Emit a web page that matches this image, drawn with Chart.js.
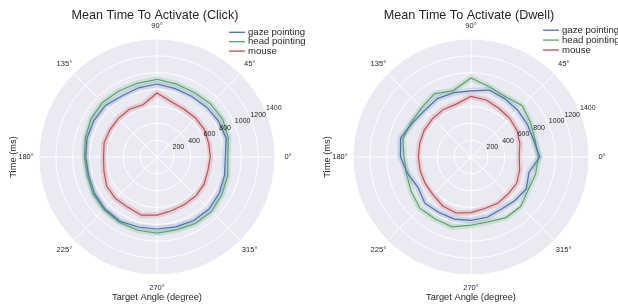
<!DOCTYPE html>
<html>
<head>
<meta charset="utf-8">
<script src="https://cdn.jsdelivr.net/npm/chart.js@4/dist/chart.umd.min.js"></script>
<style>
html, body { margin: 0; padding: 0; background: #fff; }
#wrap { position: relative; width: 618px; height: 306px; overflow: hidden; }
canvas { position: absolute; top: 0; }
#click { left: 0; }
#dwell { left: 309px; }
</style>
</head>
<body>
<div id="wrap">
<canvas id="click" width="309" height="306"></canvas>
<canvas id="dwell" width="309" height="306"></canvas>
</div>
<script>
// target angles (degrees, counter-clockwise from the right)
var angles = [0, 15, 30, 45, 60, 75, 90, 105, 120, 135, 150, 165,
              180, 195, 210, 225, 240, 255, 270, 285, 300, 315, 330, 345];
var angleTicks = ['0°', '45°', '90°', '135°', '180°', '225°', '270°', '315°'];
var seriesNames = ['gaze pointing', 'head pointing', 'mouse'];
var seriesColors = ['#4C72B0', '#55A868', '#C44E52'];
var bandColors = ['rgba(76,114,176,0.18)', 'rgba(85,168,104,0.18)', 'rgba(196,78,82,0.18)'];

// mean time to activate (ms), one value per target angle
var clickGaze  = [810, 850, 845, 835, 828, 840, 866, 850, 835, 865, 865, 860, 845, 840, 858, 873, 880, 860, 854, 858, 871, 874, 854, 830];
var clickHead  = [840, 875, 900, 895, 885, 895, 922, 905, 905, 915, 905, 880, 860, 856, 875, 888, 893, 900, 902, 895, 912, 915, 891, 868];
var clickMouse = [632, 635, 649, 650, 650, 676, 759, 642, 655, 648, 645, 650, 634, 652, 690, 696, 690, 715, 690, 660, 650, 652, 645, 625];
var dwellGaze  = [815, 770, 772, 785, 800, 822, 785, 790, 800, 780, 805, 865, 838, 775, 725, 775, 760, 762, 752, 740, 716, 733, 757, 712];
var dwellHead  = [800, 788, 816, 860, 826, 860, 937, 816, 865, 828, 820, 836, 795, 793, 818, 859, 850, 858, 809, 797, 830, 832, 783, 793];
var dwellMouse = [572, 600, 630, 650, 665, 700, 720, 653, 652, 645, 640, 630, 624, 624, 628, 636, 670, 688, 660, 632, 635, 621, 625, 598];

var FONT = '"Liberation Sans", Arial, sans-serif';
var n = angles.length;

// radar goes clockwise from the right, so walk the angles backwards
function clockwise(arr) {
  return arr.map(function (v, i) { return arr[(n - i) % n]; });
}

var polarDecor = {
  id: 'polarDecor',
  beforeDraw: function (chart) {
    var s = chart.scales.r, ctx = chart.ctx;
    ctx.save();
    ctx.fillStyle = '#EAEAF2';
    ctx.beginPath();
    ctx.arc(s.xCenter, s.yCenter, s.drawingArea, 0, Math.PI * 2);
    ctx.fill();
    ctx.restore();
  },
  afterDraw: function (chart, args, opts) {
    var s = chart.scales.r, ctx = chart.ctx;
    var cx = s.xCenter, cy = s.yCenter;
    ctx.save();
    ctx.fillStyle = '#262626';

    // angle labels
    ctx.font = '7.5px ' + FONT;
    ctx.textAlign = 'center';
    ctx.textBaseline = 'middle';
    chart.data.labels.forEach(function (lab, i) {
      if (angleTicks.indexOf(lab) < 0) return;
      var p = s.getPointPosition(i, s.drawingArea + 13);
      ctx.fillText(lab, p.x, p.y);
    });

    // radial labels at 22.5 degrees
    ctx.font = '7px ' + FONT;
    ctx.textAlign = 'left';
    ctx.textBaseline = 'bottom';
    var a = 22.5 * Math.PI / 180;
    s.ticks.forEach(function (t) {
      if (t.value <= 0) return;
      var d = s.getDistanceFromCenterForValue(t.value);
      ctx.fillText(String(t.value), cx + d * Math.cos(a), cy - d * Math.sin(a));
    });

    // title and axis labels
    ctx.textAlign = 'center';
    ctx.textBaseline = 'alphabetic';
    ctx.font = '12.6px ' + FONT;
    ctx.fillText(opts.title, cx - 2, 18.5);
    ctx.font = '9.3px ' + FONT;
    ctx.fillText('Target Angle (degree)', cx, 300);
    ctx.save();
    ctx.translate(cx - 144, cy);
    ctx.rotate(-Math.PI / 2);
    ctx.textBaseline = 'middle';
    ctx.fillText('Time (ms)', 0, 0);
    ctx.restore();

    // legend
    ctx.font = '9.6px ' + FONT;
    ctx.textAlign = 'left';
    ctx.textBaseline = 'middle';
    var row = 0;
    chart.data.datasets.forEach(function (ds) {
      if (!ds.label) return;
      var y = opts.legendTop + row * opts.legendGap;
      ctx.strokeStyle = ds.borderColor;
      ctx.lineWidth = 1.3;
      ctx.beginPath();
      ctx.moveTo(cx + 72, y);
      ctx.lineTo(cx + 88, y);
      ctx.stroke();
      ctx.fillText(ds.label, cx + 91, y);
      row++;
    });
    ctx.restore();
  }
};

function makeChart(id, title, series, padLeft, legendTop, legendGap) {
  var datasets = [];
  series.forEach(function (vals, k) {
    datasets.push({
      label: seriesNames[k],
      data: clockwise(vals),
      borderColor: seriesColors[k],
      borderWidth: 1.2,
      fill: false,
      order: 0
    });
    datasets.push({
      label: '',
      data: clockwise(vals),
      borderColor: bandColors[k],
      borderWidth: 6,
      fill: false,
      order: 1
    });
  });

  return new Chart(document.getElementById(id).getContext('2d'), {
    type: 'radar',
    data: {
      labels: clockwise(angles).map(function (a) { return a + '°'; }),
      datasets: datasets
    },
    plugins: [polarDecor],
    options: {
      responsive: false,
      animation: false,
      layout: { padding: { left: padLeft, right: 309 - 236 - padLeft, top: 39, bottom: 31 } },
      elements: { point: { radius: 0, hoverRadius: 0 }, line: { tension: 0 } },
      plugins: {
        legend: { display: false },
        tooltip: { enabled: false },
        polarDecor: { title: title, legendTop: legendTop, legendGap: legendGap }
      },
      scales: {
        r: {
          min: 0,
          max: 1400,
          startAngle: 90,
          ticks: { display: false, stepSize: 200 },
          pointLabels: { display: false },
          grid: { circular: true, color: '#ffffff', lineWidth: 1 },
          angleLines: {
            color: function (c) { return c.index % 3 === 0 ? '#ffffff' : 'rgba(0,0,0,0)'; },
            lineWidth: function (c) { return c.index % 3 === 0 ? 1 : 0; }
          }
        }
      }
    }
  });
}

makeChart('click', 'Mean Time To Activate (Click)', [clickGaze, clickHead, clickMouse], 39, 32.3, 9.4);
makeChart('dwell', 'Mean Time To Activate (Dwell)', [dwellGaze, dwellHead, dwellMouse], 44, 30.2, 9.9);
</script>
</body>
</html>
